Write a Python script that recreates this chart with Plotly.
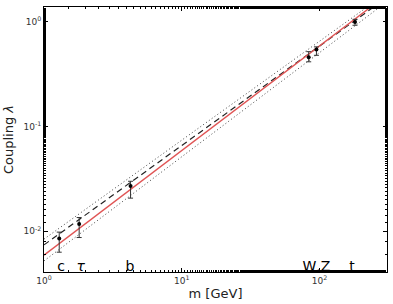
import plotly.graph_objects as go

# data points (fermion / boson couplings)
names = ["c", "τ", "b", "W", "Z", "t"]
mass = [1.29, 1.80, 4.25, 83.5, 95.0, 181.0]
coupling = [0.0085, 0.0117, 0.027, 0.46, 0.546, 1.0]
err_up = [0.0013, 0.0018, 0.003, 0.06, 0.032, 0.06]
err_dn = [0.0022, 0.003, 0.0063, 0.044, 0.066, 0.07]

# lines (endpoints on log-log scale)
line_m = [1.0, 300.0]
red_line = [0.0059, 1.77]
dash_line = [0.0074, 1.67]
dot_upper = [0.0084, 1.85]
dot_lower = [0.0052, 1.52]

# particle labels
label_text = ["c", "<i>τ</i>", "b", "W,Z", "t"]
label_x = [1.33, 1.85, 4.2, 95.0, 172.0]
label_y = [0.0045, 0.0045, 0.0045, 0.0045, 0.0045]

fig = go.Figure()
fig.add_trace(go.Scatter(x=line_m, y=dot_upper, mode="lines",
                         line=dict(color="#444", width=1, dash="1px,2.5px")))
fig.add_trace(go.Scatter(x=line_m, y=dot_lower, mode="lines",
                         line=dict(color="#444", width=1, dash="1px,2.5px")))
fig.add_trace(go.Scatter(x=line_m, y=dash_line, mode="lines",
                         line=dict(color="#222", width=1.2, dash="6px,4px")))
fig.add_trace(go.Scatter(x=line_m, y=red_line, mode="lines",
                         line=dict(color="#e05555", width=1.4)))
fig.add_trace(go.Scatter(x=mass, y=coupling, mode="markers",
                         marker=dict(color="black", size=4),
                         error_y=dict(type="data", symmetric=False,
                                      array=err_up, arrayminus=err_dn,
                                      color="#333", thickness=1, width=2.5)))
fig.add_trace(go.Scatter(x=label_x, y=label_y, mode="text", text=label_text,
                         textposition="middle center",
                         textfont=dict(family="DejaVu Sans", size=14, color="black")))

axis_common = dict(type="log", showline=True, linecolor="black", linewidth=1,
                   mirror="allticks", ticks="inside", ticklen=4, tickcolor="black",
                   showgrid=False, zeroline=False,
                   tickfont=dict(family="DejaVu Sans", size=9, color="#333"),
                   minor=dict(ticks="inside", ticklen=2, tickcolor="black", showgrid=False))

fig.update_xaxes(range=[0, 2.49], tickvals=[1, 10, 100],
                 ticktext=["10<sup>0</sup>", "10<sup>1</sup>", "10<sup>2</sup>"],
                 title=dict(text="m [GeV]", font=dict(family="DejaVu Sans", size=13, color="#222"),
                            standoff=4),
                 **axis_common)
fig.update_yaxes(range=[-2.39, 0.143], tickvals=[0.01, 0.1, 1],
                 ticktext=["10<sup>-2</sup>", "10<sup>-1</sup>", "10<sup>0</sup>"],
                 title=dict(text="Coupling <i>λ</i>", font=dict(family="DejaVu Sans", size=13, color="#222"),
                            standoff=6),
                 **axis_common)

fig.update_layout(width=393, height=304, margin=dict(l=44, r=6, t=7, b=32),
                  plot_bgcolor="white", paper_bgcolor="white", showlegend=False)

fig.write_html("out.html")
